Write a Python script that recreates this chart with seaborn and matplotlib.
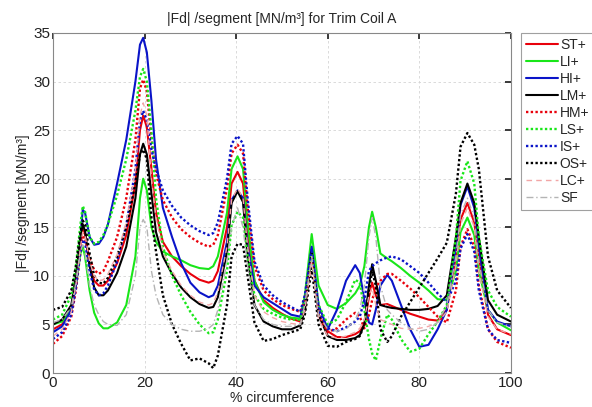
import numpy as np
import pandas as pd
import matplotlib
matplotlib.use('Agg')
import matplotlib.pyplot as plt
import seaborn as sns

x = [0, 2, 4, 5, 6, 6.5, 7, 8, 9, 10, 11, 12, 14, 16, 18, 19, 19.7, 20.5, 21.5, 22.5,
     24, 26, 28, 30, 32, 34, 35, 36, 38, 39, 40.3, 41.5, 42.5, 44, 46, 48, 50, 52, 54, 55,
     56.5, 58, 60, 62, 64, 66, 67, 68, 69, 69.7, 70.5, 71.5, 73, 74, 76, 78, 80, 82, 84, 86,
     88, 89, 90.5, 92, 93, 95, 97, 100]

st = [4.5, 5, 6.5, 9, 13, 14.8, 14.3, 11, 9.5, 9, 9, 9.5, 11.3, 14.2, 19.5, 25, 26.5, 25.3, 21, 16.5,
      13.5, 12, 11, 10.2, 9.6, 9.3, 9.5, 10.5, 15, 19.5, 20.7, 19.5, 14.5, 9.5, 7.5, 6.7, 6.1, 5.6, 5.3, 6.5,
      12.2, 6, 4.3, 3.7, 3.7, 4, 4.3, 5, 7.8, 9.3, 8, 7, 7.1, 6.9, 6.5, 6.1, 5.8, 5.5, 5.4, 6.5,
      12, 15.8, 17.5, 15.5, 12, 6, 4.5, 3.9]
li = [5.0, 5.3, 6.5, 9, 12.3, 13, 12, 8.5, 6.2, 5.1, 4.6, 4.6, 5.2, 7, 12, 18, 20, 18.8, 15, 13.5,
      12.5, 12, 11.6, 11.1, 10.8, 10.7, 11, 12, 16.5, 21, 22.3, 21, 15.5, 9.5, 7.3, 6.5, 6, 5.7, 5.6, 8,
      14.3, 9, 7, 6.6, 7.2, 8.2, 9, 11, 15, 16.6, 15, 12.3, 11.8, 11.5, 10.8, 10, 9.3, 8.5, 7.6, 7.5,
      10.5, 14.5, 16, 14.2, 10.5, 6.5, 5.2, 4.4]
hi = [4.2, 4.8, 6.5, 9, 14, 16.8, 16.5, 14, 13.2, 13.3, 14, 15.3, 19.5, 24, 30, 33.8, 34.5, 33, 28, 22,
      17, 14, 11.3, 9.3, 8.3, 7.8, 8, 9, 13.5, 17.8, 18.8, 18, 13, 9, 7.8, 7.2, 6.6, 6, 5.8, 7.5,
      13, 7, 4.5, 6.5, 9.5, 11.1, 10.3, 7.5, 5.2, 5, 6.5, 9, 10.1, 9.5, 7, 4.5, 2.7, 2.9, 4.5, 6.5,
      13, 17.3, 19.2, 17, 13, 6.5, 5.3, 4.8]
lm = [5.0, 5.5, 7, 10, 14, 15.3, 14.6, 11, 8.8, 8, 8, 8.5, 10.3, 13, 18, 22.5, 23.6, 22.5, 18.5, 14.5,
      12, 10.2, 8.8, 7.8, 7.1, 6.7, 6.8, 7.8, 12.5, 17.5, 18.7, 17.6, 12, 7, 5.3, 4.8, 4.5, 4.5, 4.9, 6.5,
      12.6, 6, 3.8, 3.4, 3.4, 3.6, 3.9, 5, 9, 11.2, 9.5, 7, 6.8, 6.7, 6.6, 6.5, 6.5, 6.6, 6.9, 8,
      14, 17.5, 19.5, 17.5, 14, 7.5, 6, 5.3]
hm = [3.0, 3.8, 5.8, 8.5, 12.5, 14, 13.8, 11.8, 10.6, 10.2, 10.5, 11.5, 14, 18, 24, 29.3, 30.2, 29, 24, 20.5,
      17.8, 16, 14.8, 14, 13.4, 13, 13.2, 14.2, 19, 22.6, 23.5, 22.6, 17, 11, 8.5, 7.6, 7, 6.6, 6.3, 7.5,
      11.7, 6, 4.2, 4.6, 5.5, 6.2, 5.8, 4.6, 6, 7.5, 8.8, 9.5, 10.2, 10.2, 9.5, 8.7, 7.8, 6.8, 5.8, 5.2,
      8.5, 13, 14.8, 13, 9, 4.5, 3.2, 2.6]
ls = [5.5, 6, 8, 11, 15.3, 17.2, 16.6, 14, 13.3, 13.5, 14.2, 15.3, 18.3, 22, 27, 30.5, 31.3, 30, 25, 18,
      13, 10, 8, 6.3, 5, 4.1, 4.2, 5.5, 10.5, 15.2, 16.6, 16, 12, 8, 6.6, 6.1, 5.7, 5.5, 5.5, 7.5,
      12.3, 7, 5, 5.5, 7.3, 9.6, 9.3, 6.5, 3.5, 2, 1.3, 3.5, 6, 5.5, 3.5, 2.2, 2.5, 4, 5.3, 7,
      14, 19.8, 21.8, 19.5, 14, 8.5, 6.8, 5.8]
is_ = [3.5, 4.2, 6, 8.8, 12.5, 13.7, 13.4, 10.5, 8.6, 8, 8.2, 9, 11.5, 15.2, 21, 26, 27, 26, 23, 21,
       18.8, 17.2, 16, 15.2, 14.6, 14.2, 14.4, 15.5, 20, 23.6, 24.4, 23.6, 18, 11.5, 9, 8, 7.3, 6.8, 6.3, 8,
       12.8, 6.5, 4.6, 4.3, 4.7, 5.3, 5.8, 7.5, 10.5, 11, 11.3, 11.6, 11.9, 12, 11.7, 11, 10.3, 9.3, 8.2, 7.3,
       9.5, 12.8, 14.3, 12.5, 8.5, 4.5, 3.4, 3.1]
os_ = [6.5, 6.8, 8.5, 11, 14.5, 15.7, 15.3, 12.3, 10, 9.3, 9.2, 9.8, 12, 15, 19.5, 22.5, 23, 22, 16, 12.5,
       8, 5, 3, 1.3, 1.5, 1.0, 0.5, 1.8, 7, 12, 13.3, 13.2, 10, 5.2, 3.3, 3.5, 3.9, 4.2, 4.5, 6,
       10.8, 5, 2.8, 2.7, 3.2, 3.5, 3.8, 5, 8.5, 10.5, 9, 4.5, 3.2, 3.8, 5.8, 7.3, 8.8, 10.3, 11.8, 13.4,
       18.5, 23.3, 24.7, 23.5, 21, 12, 8.5, 6.7]
lc = [3.8, 4.5, 6.3, 9, 13, 14.5, 14.2, 11.5, 10, 9.5, 9.6, 10.2, 12.2, 15.5, 21, 26.5, 27.8, 26.5, 20, 16,
      12.5, 10.5, 9, 8, 7.3, 7, 7.2, 8.3, 13, 17.8, 19, 18, 13, 8, 6.3, 5.7, 5.3, 5.1, 5, 6.5,
      11.5, 5.5, 3.8, 3.6, 3.8, 4.2, 4.6, 5.5, 8, 8.8, 7, 5.5, 5.2, 5, 4.6, 4.5, 4.6, 4.8, 5.2, 6.3,
      11, 15.3, 17, 15, 10.5, 5.8, 4.5, 4]
sf = [5.2, 5.5, 6.8, 9.3, 12.5, 13.2, 12.3, 9, 7, 6, 5.3, 5, 4.9, 6, 10, 15, 15.8, 15, 10.5, 8,
      6, 5, 4.5, 4.3, 4.3, 4.6, 5, 6.5, 11.5, 15, 17, 15, 11, 7, 5.5, 5, 4.8, 4.8, 5, 7,
      12, 6, 4.5, 4.3, 4.5, 5.5, 6.5, 9, 14, 16, 14, 9, 6.5, 6, 5.2, 4.6, 4.3, 4.5, 5.2, 7,
      12, 16.3, 18, 16, 11.5, 6.5, 5.2, 4.8]

labels = ['ST+', 'LI+', 'HI+', 'LM+', 'HM+', 'LS+', 'IS+', 'OS+', 'LC+', 'SF']
series = [st, li, hi, lm, hm, ls, is_, os_, lc, sf]
colors = ['#e8000b', '#19e619', '#0a14c8', '#000000', '#e8000b', '#19e619', '#0a14c8', '#000000',
          '#f2a6a6', '#b4b4b4']
dotted = (0, (1, 1))
styles = ['-', '-', '-', '-', dotted, dotted, dotted, dotted, (0, (4, 3)), (0, (5, 2, 1, 2))]
widths = [1.5, 1.5, 1.5, 1.5, 1.7, 1.7, 1.7, 1.7, 1.0, 1.0]

sns.set_theme(style='white')
plt.rcParams['font.family'] = ['Liberation Sans', 'DejaVu Sans']

fig, ax = plt.subplots(figsize=(5.92, 4.07), dpi=100)
fig.subplots_adjust(left=0.0895, right=0.863, bottom=0.0835, top=0.919)

for lab, ys, c, s, w in zip(labels, series, colors, styles, widths):
    d = pd.DataFrame({'x': x, 'y': ys})
    sns.lineplot(data=d, x='x', y='y', ax=ax, color=c, linestyle=s, linewidth=w, label=lab)

ax.set_xlim(0, 100)
ax.set_ylim(0, 35)
ax.set_xticks([0, 20, 40, 60, 80, 100])
ax.set_yticks([0, 5, 10, 15, 20, 25, 30, 35])
ax.grid(True, color='#d4d4d4', linestyle=(0, (3, 3)), linewidth=0.6)
ax.tick_params(direction='in', top=True, right=True, length=4, labelsize=11, colors='#222222', pad=2)
for sp in ax.spines.values():
    sp.set_color('#888888')
    sp.set_linewidth(0.8)

ax.set_title('|Fd| /segment [MN/m³] for Trim Coil A', fontsize=10, pad=7)
ax.set_xlabel('% circumference', fontsize=10, labelpad=1)
ax.set_ylabel('|Fd| /segment [MN/m³]', fontsize=10, labelpad=2)

leg = ax.legend(loc='upper left', bbox_to_anchor=(1.022, 1.0), borderaxespad=0,
                fontsize=10, handlelength=2.3, handletextpad=0.15, labelspacing=0.22,
                borderpad=0.35, frameon=True, fancybox=False)
leg.get_frame().set_edgecolor('#888888')
leg.get_frame().set_linewidth(0.8)

fig.savefig('out.png', dpi=100)
